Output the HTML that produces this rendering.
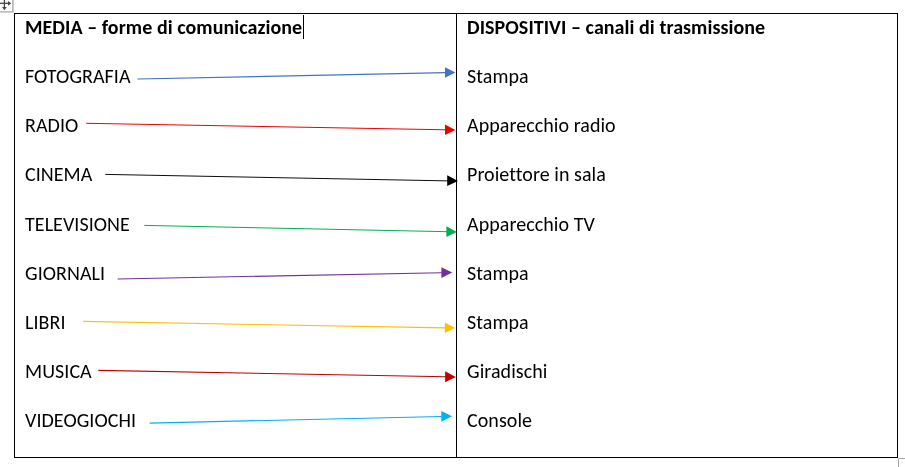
<!DOCTYPE html>
<html lang="it">
<head>
<meta charset="utf-8">
<title>Media e dispositivi</title>
<style>
  html, body { margin: 0; padding: 0; background: #fff; }
  body { width: 905px; height: 467px; position: relative; overflow: hidden;
         font-family: "Carlito", "Liberation Sans", sans-serif; font-size: 20px; color: #000; }
  .t { position: absolute; white-space: nowrap; line-height: 24px; letter-spacing: 0.06px; will-change: transform; }
  .b { font-weight: bold; }
  .tbl { position: absolute; left: 14px; top: 13px; width: 882px; height: 443px; border: 1px solid #000; }
  .mid { position: absolute; left: 456px; top: 13px; width: 1px; height: 445px; background: #000; }
  svg.ov { position: absolute; left: 0; top: 0; }
</style>
</head>
<body>
<div class="tbl"></div>
<div class="mid"></div>

<div class="t b" style="left:25px;top:15px">MEDIA – forme di comunicazione</div>
<div class="t" style="left:25.4px;top:64px">FOTOGRAFIA</div>
<div class="t" style="left:25.4px;top:113px">RADIO</div>
<div class="t" style="left:25.4px;top:162px">CINEMA</div>
<div class="t" style="left:25.4px;top:212px">TELEVISIONE</div>
<div class="t" style="left:25.4px;top:261px">GIORNALI</div>
<div class="t" style="left:25.4px;top:310px">LIBRI</div>
<div class="t" style="left:25.4px;top:359px">MUSICA</div>
<div class="t" style="left:25.4px;top:408px">VIDEOGIOCHI</div>

<div class="t b" style="left:467px;top:15px">DISPOSITIVI – canali di trasmissione</div>
<div class="t" style="left:467px;top:64px">Stampa</div>
<div class="t" style="left:467px;top:113px">Apparecchio radio</div>
<div class="t" style="left:467px;top:162px">Proiettore in sala</div>
<div class="t" style="left:467px;top:212px">Apparecchio TV</div>
<div class="t" style="left:467px;top:261px">Stampa</div>
<div class="t" style="left:467px;top:310px">Stampa</div>
<div class="t" style="left:467px;top:359px">Giradischi</div>
<div class="t" style="left:467px;top:408px">Console</div>

<svg class="ov" width="905" height="467" viewBox="0 0 905 467">
  <!-- table move handle -->
  <path d="M-2 11.9 H12.9 V-2" fill="none" stroke="#a9a9a9" stroke-width="1.4"/>
  <g stroke="#474747" stroke-width="1.3" fill="#474747">
    <line x1="4.4" y1="-4" x2="4.4" y2="8"/>
    <line x1="-4" y1="3.3" x2="9" y2="3.3"/>
    <polygon stroke="none" points="11.3,3.3 8,0.9 8,5.7"/>
    <polygon stroke="none" points="4.4,10.2 2,6.9 6.8,6.9"/>
  </g>
  <!-- cursor -->
  <line x1="303.5" y1="15" x2="303.5" y2="39" stroke="#000" stroke-width="1"/>
  <!-- resize handle -->
  <path d="M898.5 467 V458.5 H905" fill="none" stroke="#a6a6a6" stroke-width="1"/>

  <!-- arrows -->
  <g stroke-width="1.1" fill="none">
    <line x1="137.5" y1="79" x2="446" y2="72.6" stroke="#4472C4" stroke-width="1.2"/>
    <line x1="86.2" y1="123.3" x2="446" y2="129.8" stroke="#EE0000" stroke-width="1"/>
    <line x1="105.3" y1="174.4" x2="448" y2="180.9" stroke="#000000" stroke-width="0.95"/>
    <line x1="144.3" y1="225.4" x2="447" y2="231.7" stroke="#00B050" stroke-width="1"/>
    <line x1="117.6" y1="279" x2="442" y2="272.7" stroke="#7030A0"/>
    <line x1="83.3" y1="321.4" x2="445.5" y2="327.9" stroke="#FFC000"/>
    <line x1="98.3" y1="370.4" x2="446" y2="376.8" stroke="#C00000"/>
    <line x1="149.7" y1="423.1" x2="442" y2="416.5" stroke="#00B0F0" stroke-width="1.2"/>
  </g>
  <g stroke="none">
    <polygon points="455.4,72.4 445,67.2 445,77.8" fill="#4472C4"/>
    <polygon points="455.3,130 445,124.6 445,134.9" fill="#EE0000"/>
    <polygon points="458,181.1 447.2,175.3 447.2,185.9" fill="#000000"/>
    <polygon points="456.8,232 446.4,226.2 446.4,237" fill="#00B050"/>
    <polygon points="452.2,272.5 441.4,267.2 441.4,278" fill="#7030A0"/>
    <polygon points="455.1,328.1 444.9,322.5 444.9,333.1" fill="#FFC000"/>
    <polygon points="455.8,377 445.1,371.3 445.1,382.2" fill="#C00000"/>
    <polygon points="452,416.3 441.3,411 441.3,421.8" fill="#00B0F0"/>
  </g>
</svg>
</body>
</html>
